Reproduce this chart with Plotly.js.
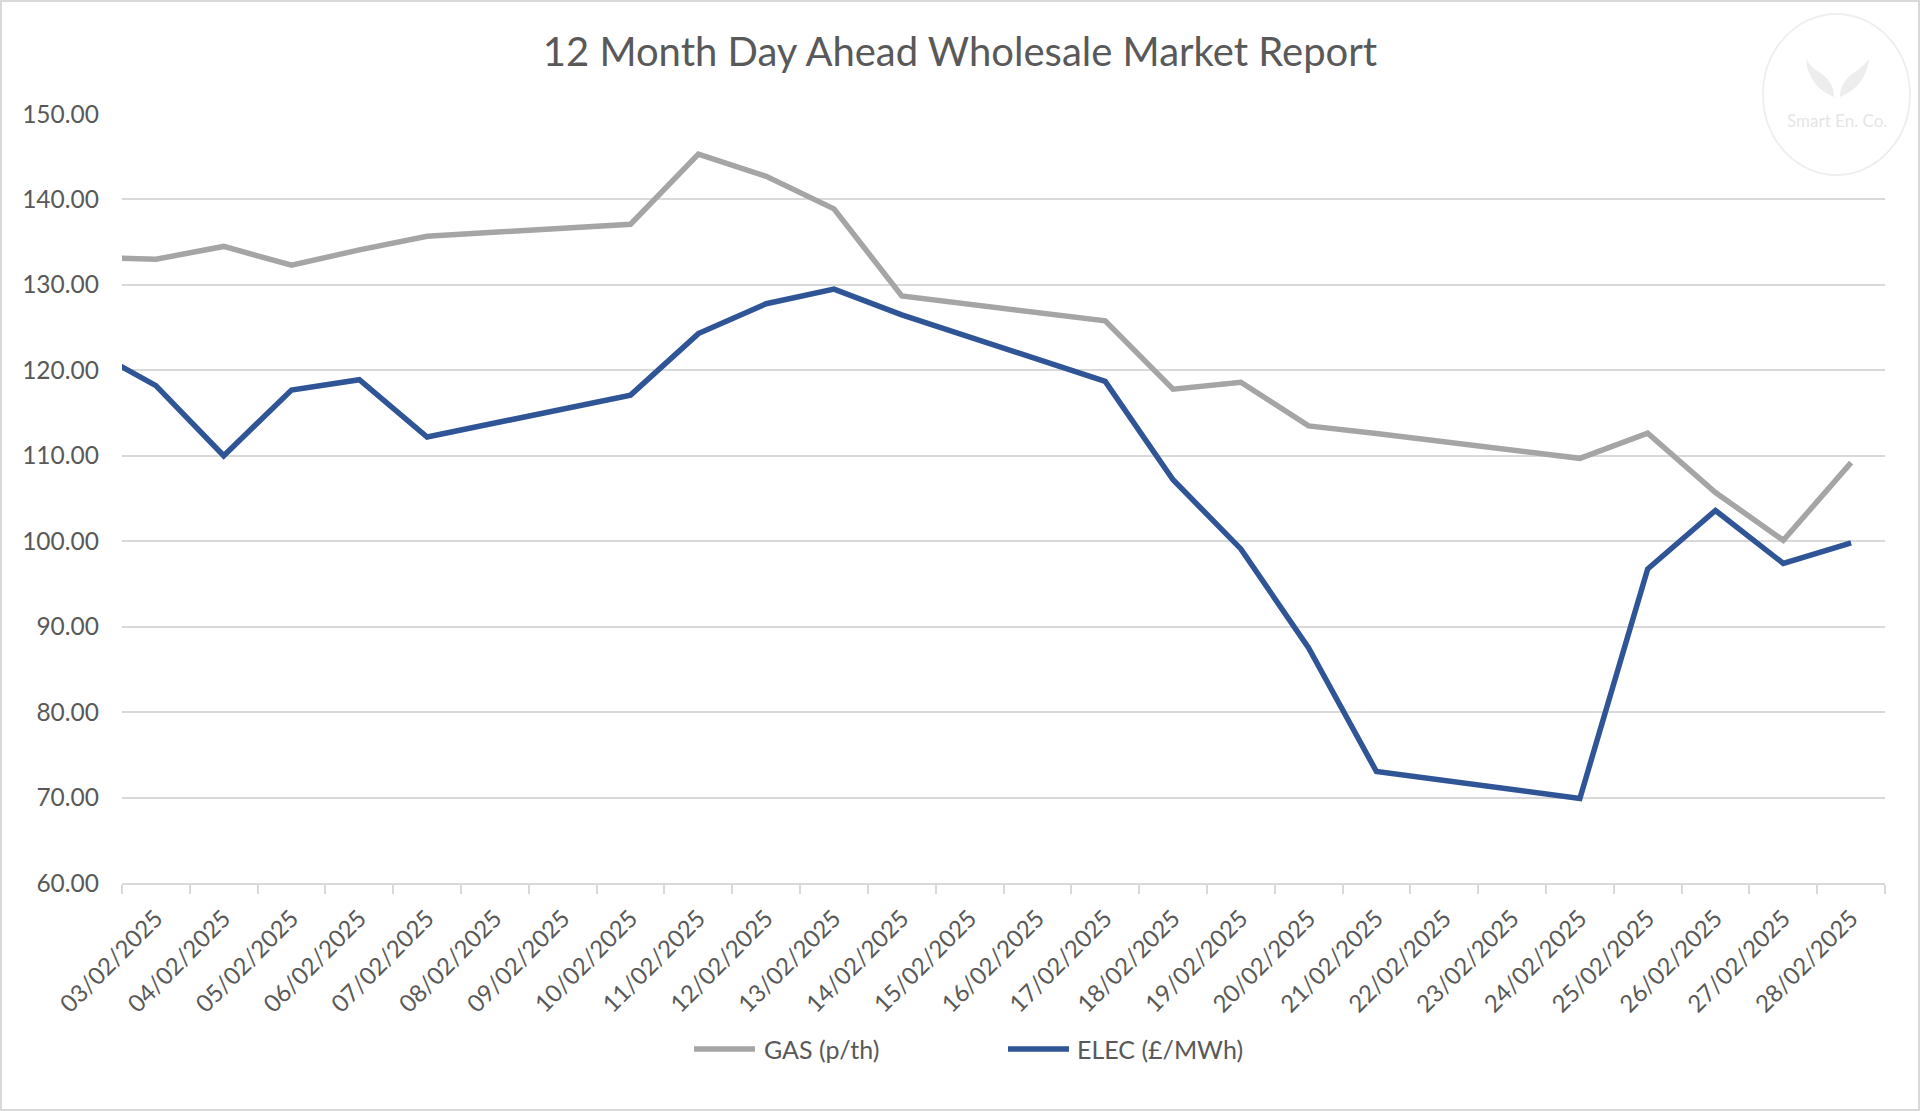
<!DOCTYPE html>
<html>
<head>
<meta charset="utf-8">
<script src="https://cdn.plot.ly/plotly-3.0.1.min.js"></script>
<style>
  html, body { margin: 0; padding: 0; background: #ffffff; }
  #wrap { position: relative; width: 1920px; height: 1111px; }
  #chart { width: 1920px; height: 1111px; }
  #frame { position: absolute; left: 0; top: 0; width: 1920px; height: 1111px; box-sizing: border-box; border: 2px solid #d9d9d9; pointer-events: none; }
</style>
</head>
<body>
<div id="wrap"><div id="chart"></div><div id="frame"></div></div>
<script>
// Trading dates (weekdays); the first point is the prior Friday, clipped at the axis start
const dates = ['2025-01-31','2025-02-03','2025-02-04','2025-02-05','2025-02-06','2025-02-07',
  '2025-02-10','2025-02-11','2025-02-12','2025-02-13','2025-02-14',
  '2025-02-17','2025-02-18','2025-02-19','2025-02-20','2025-02-21',
  '2025-02-24','2025-02-25','2025-02-26','2025-02-27','2025-02-28'];
const gasValues = [133.75,133.0,134.5,132.3,134.1,135.7,
  137.1,145.3,142.7,138.9,128.7,
  125.8,117.8,118.6,113.5,112.6,
  109.7,112.65,105.7,100.1,109.2];
const elecValues = [131.4,118.2,110.0,117.7,118.9,112.2,
  117.1,124.3,127.8,129.5,126.5,
  118.7,107.2,99.1,87.5,73.05,
  69.9,96.75,103.6,97.4,99.8];
// Axis category days and labels
const tickDates = ['2025-02-03','2025-02-04','2025-02-05','2025-02-06','2025-02-07','2025-02-08','2025-02-09',
  '2025-02-10','2025-02-11','2025-02-12','2025-02-13','2025-02-14','2025-02-15','2025-02-16',
  '2025-02-17','2025-02-18','2025-02-19','2025-02-20','2025-02-21','2025-02-22','2025-02-23',
  '2025-02-24','2025-02-25','2025-02-26','2025-02-27','2025-02-28'];
const tickLabels = ['03/02/2025','04/02/2025','05/02/2025','06/02/2025','07/02/2025','08/02/2025','09/02/2025',
  '10/02/2025','11/02/2025','12/02/2025','13/02/2025','14/02/2025','15/02/2025','16/02/2025',
  '17/02/2025','18/02/2025','19/02/2025','20/02/2025','21/02/2025','22/02/2025','23/02/2025',
  '24/02/2025','25/02/2025','26/02/2025','27/02/2025','28/02/2025'];
const seriesNames = ['GAS (p/th)', 'ELEC (£/MWh)'];
const seriesColors = ['#A5A5A5', '#2F5597'];
const titleText = '12 Month Day Ahead Wholesale Market Report';
const watermarkText = 'Smart En. Co.';

const FONT = 'Lato, "Liberation Sans", sans-serif';
const TXT = '#595959';

// plot-area geometry (pixels) used to place page decorations in paper units
const M = { l: 122, r: 35, t: 114, b: 228 };
const PW = 1920 - M.l - M.r, PH = 1111 - M.t - M.b;
const px = v => (v - M.l) / PW;
const py = v => (1111 - M.b - v) / PH;

const traces = seriesNames.map((nm, i) => ({
  x: dates, y: i === 0 ? gasValues : elecValues, name: nm, type: 'scatter', mode: 'lines',
  line: { color: seriesColors[i], width: 5.5 }, hoverinfo: 'x+y', showlegend: false
}));

// custom legend (long line samples as in the original)
const legendItems = [
  { s0: 694, s1: 755, t: 762 },
  { s0: 1008, s1: 1069, t: 1075 }
];
const legendY = 1049;

const shapes = [
  { type: 'circle', xref: 'paper', yref: 'paper',
    x0: px(1763), x1: px(1910), y0: py(175), y1: py(14),
    line: { color: '#efefef', width: 2 }, fillcolor: 'rgba(0,0,0,0)', layer: 'below' },
  // watermark leaves
  { type: 'path', xref: 'paper', yref: 'paper', layer: 'below',
    path: `M ${px(1806)} ${py(59)} Q ${px(1808)} ${py(86)} ${px(1834)} ${py(97)} Q ${px(1834)} ${py(80)} ${px(1816)} ${py(70)} Q ${px(1810)} ${py(66)} ${px(1806)} ${py(59)} Z`,
    fillcolor: '#ededed', line: { width: 0 } },
  { type: 'path', xref: 'paper', yref: 'paper', layer: 'below',
    path: `M ${px(1869)} ${py(59)} Q ${px(1866)} ${py(86)} ${px(1840)} ${py(97)} Q ${px(1840)} ${py(80)} ${px(1858)} ${py(70)} Q ${px(1864)} ${py(66)} ${px(1869)} ${py(59)} Z`,
    fillcolor: '#ededed', line: { width: 0 } }
];
const annotations = [
  { text: watermarkText, xref: 'paper', yref: 'paper',
    x: px(1837), y: py(121), xanchor: 'center', yanchor: 'middle',
    showarrow: false, font: { family: FONT, size: 17, color: '#e6e6e6' } }
];
legendItems.forEach((it, i) => {
  shapes.push({ type: 'line', xref: 'paper', yref: 'paper',
    x0: px(it.s0), x1: px(it.s1), y0: py(legendY), y1: py(legendY),
    line: { color: seriesColors[i], width: 5.5 } });
  annotations.push({ text: seriesNames[i], xref: 'paper', yref: 'paper',
    x: px(it.t), y: py(legendY), xanchor: 'left', yanchor: 'middle', showarrow: false,
    font: { family: FONT, size: 25, color: TXT } });
});

const layout = {
  width: 1920, height: 1111,
  paper_bgcolor: '#ffffff', plot_bgcolor: '#ffffff',
  margin: { l: M.l, r: M.r, t: M.t, b: M.b, pad: 0 },
  font: { family: FONT, color: TXT },
  title: { text: titleText, font: { family: FONT, size: 40, color: TXT },
           x: 0.5, xanchor: 'center', xref: 'container', y: 1 - 52/1111, yanchor: 'middle' },
  showlegend: false,
  xaxis: {
    type: 'date',
    range: ['2025-02-02 12:00', '2025-02-28 12:00'],
    tickmode: 'array', tickvals: tickDates, ticktext: tickLabels,
    tickangle: -45, ticks: '', showgrid: false, zeroline: false,
    showline: true, linecolor: '#d9d9d9', linewidth: 1.5,
    tickfont: { family: FONT, size: 24, color: TXT },
    ticklabelstandoff: 10,
    minor: { ticks: 'outside', ticklen: 9, tickwidth: 1.5, tickcolor: '#d9d9d9',
             tickmode: 'linear', tick0: '2025-02-02 12:00', dtick: 86400000, showgrid: false },
    fixedrange: true
  },
  yaxis: {
    range: [60, 150], dtick: 10, tick0: 60, tickformat: '.2f',
    showgrid: true, gridcolor: '#d9d9d9', gridwidth: 1.5,
    zeroline: false, showline: false, ticks: '',
    tickfont: { family: FONT, size: 24.5, color: TXT },
    ticklabelstandoff: 22,
    fixedrange: true
  },
  shapes: shapes,
  annotations: annotations
};

Plotly.newPlot('chart', traces, layout, { displayModeBar: false, responsive: false });
</script>
</body>
</html>
